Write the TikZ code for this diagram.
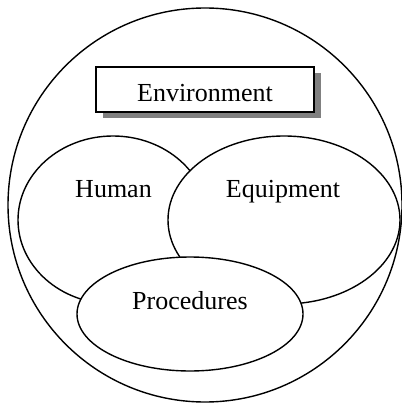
\documentclass[tikz,border=0pt]{standalone}
\usepackage{fontspec}
\setmainfont{Liberation Serif}
\usetikzlibrary{shapes.geometric,shadows}
\begin{document}
\begin{tikzpicture}[x=1pt,y=-1pt,
  outline/.style={draw=black,line width=1.4pt,fill=white,inner sep=0pt,outer sep=0pt},
  blob/.style={outline,ellipse},
  caption/.style={font=\fontsize{26}{30}\selectfont,inner sep=0pt,anchor=base}]
  \useasboundingbox (0,0) rectangle (401,403);
  % surrounding circle
  \node[outline,circle,minimum size=394pt] (world) at (205,205) {};
  % titled box with its shadow
  \node[outline,rectangle,minimum width=218pt,minimum height=45pt,
        drop shadow={shadow xshift=7pt,shadow yshift=-6pt,fill=black!50,opacity=1}]
        (envbox) at (205,89.5) {};
  \node[caption] (envtext) at (205,102) {Environment};
  % overlapping sets
  \node[blob,minimum width=190pt,minimum height=168pt] (human) at (113,220) {};
  \node[blob,minimum width=232pt,minimum height=168pt] (equip) at (284,220) {};
  \node[blob,minimum width=226pt,minimum height=114pt] (proc) at (190,314) {};
  \node[caption] (humantext) at (113.5,197) {Human};
  \node[caption] (equiptext) at (283,197) {Equipment};
  \node[caption] (proctext) at (190,309) {Procedures};
\end{tikzpicture}
\end{document}
